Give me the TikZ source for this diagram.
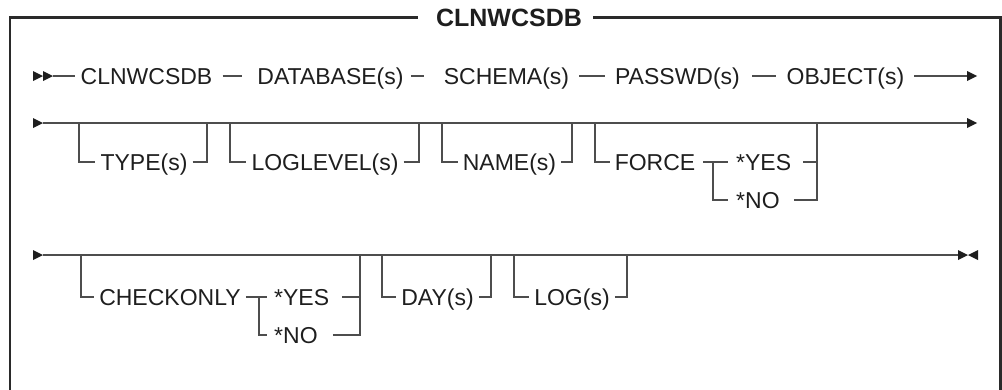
\documentclass[tikz,border=0pt]{standalone}
\usepackage{fontspec}
\setmainfont{Liberation Sans}
\definecolor{railgray}{HTML}{4D4D4D}
\definecolor{inkdark}{HTML}{1E1E1E}
\definecolor{framedark}{HTML}{2A2A2A}
\tikzset{
  kw/.style={font=\fontsize{23}{23}\selectfont, text=inkdark, inner xsep=5pt,
             inner ysep=0pt, text height=16.5pt, text depth=0pt},
  heading/.style={font=\bfseries\fontsize{25}{25}\selectfont, text=inkdark,
             inner sep=0pt, text height=17.9pt, text depth=0pt},
  rail/.style={draw=railgray, line width=2pt},
  frameline/.style={draw=framedark, line width=2.8pt},
  railtip/.pic={\fill[inkdark] (0,0) -- (-10,5) -- (-10,-5) -- cycle;},
  railstop/.pic={\fill[inkdark] (0,0) -- (10,5) -- (10,-5) -- cycle;}
}
\begin{document}
\begin{tikzpicture}[x=1pt, y=-1pt]
\useasboundingbox (0,0) rectangle (1002,389);
\clip (0,0) rectangle (1002,389);

% frame with heading
\node[heading] (ttl) at (509,17.5) {CLNWCSDB};
\coordinate (ftl) at (10,17.5);
\coordinate (fbl) at (10,400);
\coordinate (ftr) at (1000.5,17.5);
\coordinate (fbr) at (1000.5,400);
\draw[frameline, shorten <=18pt] (ttl) -- (ftl) -- (fbl);
\draw[frameline, shorten <=11pt] (ttl) -- (ftr) -- (fbr);

% ---- row 1: required parameters
\pic at (43,76) {railtip};
\pic at (53,76) {railtip};
\coordinate (r1s) at (53,76);
\node[kw] (cln) at (146.5,76) {CLNWCSDB};
\node[kw] (db)  at (330.5,76) {DATABASE(s)};
\node[kw] (sch) at (506.5,76) {SCHEMA(s)};
\node[kw] (pw)  at (677.5,76) {PASSWD(s)};
\node[kw] (obj) at (845.5,76) {OBJECT(s)};
\coordinate (r1e) at (967,76);
\pic at (977,76) {railtip};
\draw[rail] (r1s) -- (cln);
\draw[rail, shorten <=5pt, shorten >=10pt] (cln) -- (db);
\draw[rail, shorten <=2pt, shorten >=15pt] (db) -- (sch);
\draw[rail, shorten <=5pt, shorten >=5pt] (sch) -- (pw);
\draw[rail, shorten <=7pt, shorten >=6pt] (pw) -- (obj);
\draw[rail, shorten <=5pt] (obj) -- (r1e);

% ---- row 2: optional parameters
\pic at (43,123) {railtip};
\coordinate (r2s) at (43,123);
\coordinate (r2e) at (967,123);
\pic at (977,123) {railtip};
\draw[rail] (r2s) -- (r2e);

\node[kw] (type) at (144,162) {TYPE(s)};
\coordinate (typeL) at (79,123);
\coordinate (typeR) at (207,123);
\draw[rail] (typeL) |- (type);
\draw[rail] (type) -| (typeR);

\node[kw] (lvl) at (325,162) {LOGLEVEL(s)};
\coordinate (lvlL) at (230,123);
\coordinate (lvlR) at (419,123);
\draw[rail] (lvlL) |- (lvl);
\draw[rail] (lvl) -| (lvlR);

\node[kw] (nm) at (509.5,162) {NAME(s)};
\coordinate (nmL) at (442,123);
\coordinate (nmR) at (572,123);
\draw[rail] (nmL) |- (nm);
\draw[rail] (nm) -| (nmR);

\node[kw] (force) at (655,162) {FORCE};
\node[kw, anchor=west] (fyes) at (731,162) {*YES};
\node[kw, anchor=west] (fno)  at (731,200) {*NO};
\coordinate (fcL) at (595,123);
\coordinate (fcJ) at (713,162);
\coordinate (fcY) at (817,162);
\coordinate (fcR) at (817,123);
\draw[rail] (fcL) |- (force);
\draw[rail, shorten <=3pt, shorten >=3pt] (force) -- (fyes);
\draw[rail, shorten >=3pt] (fcJ) |- (fno);
\draw[rail, shorten <=7pt] (fyes) -- (fcY);
\draw[rail, shorten <=9pt] (fno) -| (fcR);

% ---- row 3: optional parameters
\pic at (43,255) {railtip};
\coordinate (r3s) at (43,255);
\coordinate (r3e) at (958,255);
\pic at (968,255) {railtip};
\pic at (968,255) {railstop};
\draw[rail] (r3s) -- (r3e);

\node[kw] (chk) at (170,297) {CHECKONLY};
\node[kw, anchor=west] (ckyes) at (269,297) {*YES};
\node[kw, anchor=west] (ckno)  at (269,335) {*NO};
\coordinate (ckL) at (81,255);
\coordinate (ckJ) at (259,297);
\coordinate (ckY) at (360,297);
\coordinate (ckR) at (360,255);
\draw[rail] (ckL) |- (chk);
\draw[rail, shorten >=2pt] (chk) -- (ckyes);
\draw[rail, shorten >=2pt] (ckJ) |- (ckno);
\draw[rail, shorten <=8pt] (ckyes) -- (ckY);
\draw[rail, shorten <=10pt] (ckno) -| (ckR);

\node[kw] (day) at (437.5,297) {DAY(s)};
\coordinate (dayL) at (382,255);
\coordinate (dayR) at (491,255);
\draw[rail] (dayL) |- (day);
\draw[rail] (day) -| (dayR);

\node[kw] (lg) at (572,297) {LOG(s)};
\coordinate (lgL) at (514,255);
\coordinate (lgR) at (627,255);
\draw[rail] (lgL) |- (lg);
\draw[rail] (lg) -| (lgR);
\end{tikzpicture}
\end{document}
